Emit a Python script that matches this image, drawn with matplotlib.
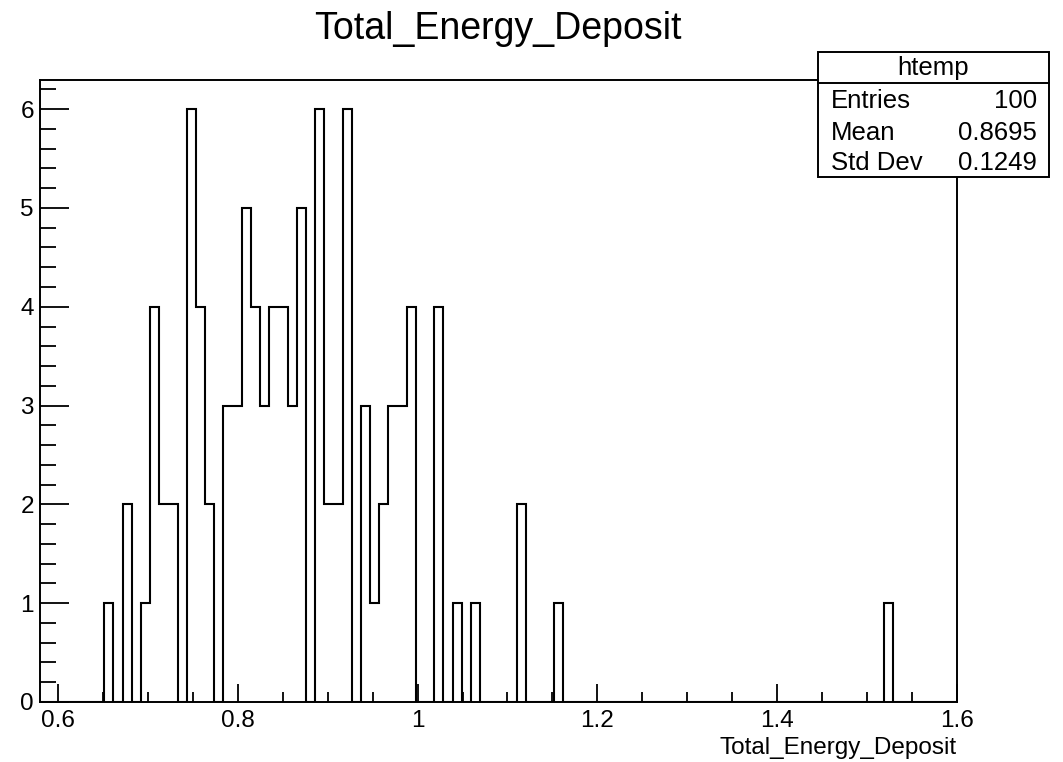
import numpy as np
import matplotlib
matplotlib.use("Agg")
import matplotlib.pyplot as plt
from matplotlib.patches import Rectangle
from matplotlib.lines import Line2D
from matplotlib.ticker import MultipleLocator, FixedLocator

# ---- data ----
title = "Total_Energy_Deposit"
x_label = "Total_Energy_Deposit"
hist_name = "htemp"
x_min, x_max, n_bins = 0.58, 1.60, 100
filled_bins = [7, 9, 11, 12, 13, 14, 16, 17, 18, 20, 21, 22, 23, 24, 25, 26, 27, 28, 30,
               31, 32, 33, 35, 36, 37, 38, 39, 40, 43, 45, 47, 52, 56, 92]
bin_counts = [1, 2, 1, 4, 2, 2, 6, 4, 2, 3, 3, 5, 4, 3, 4, 4, 3, 5, 6,
              2, 2, 6, 3, 1, 2, 3, 3, 4, 4, 1, 1, 2, 1, 1]
stat_labels = ["Entries", "Mean", "Std Dev"]
stat_values = ["100", "0.8695", "0.1249"]
x_ticks = [0.6, 0.8, 1.0, 1.2, 1.4, 1.6]
x_tick_labels = ["0.6", "0.8", "1", "1.2", "1.4", "1.6"]
y_ticks = [0, 1, 2, 3, 4, 5, 6]
y_tick_labels = ["0", "1", "2", "3", "4", "5", "6"]
y_top = 6.3

plt.rcParams['font.family'] = ['Liberation Sans', 'DejaVu Sans']

W, H = 1063, 762
fig = plt.figure(figsize=(W / 100, H / 100), dpi=100)
fig.patch.set_facecolor("white")

def fx(px):
    return px / W

def fy(py):
    return 1 - py / H

left, right, top, bottom = 40, 957, 79.5, 702
ax = fig.add_axes([fx(left), fy(bottom), fx(right - left), (bottom - top) / H])

counts = np.zeros(n_bins)
counts[filled_bins] = bin_counts
edges = np.linspace(x_min, x_max, n_bins + 1)
ax.stairs(counts, edges, baseline=0, fill=False, color="black", linewidth=1.5)

ax.set_xlim(x_min, x_max)
ax.set_ylim(0, y_top)

ax.xaxis.set_major_locator(FixedLocator(x_ticks))
ax.set_xticklabels(x_tick_labels)
ax.xaxis.set_minor_locator(MultipleLocator(0.05))
ax.yaxis.set_major_locator(FixedLocator(y_ticks))
ax.set_yticklabels(y_tick_labels)
ax.yaxis.set_minor_locator(MultipleLocator(0.2))

ax.tick_params(axis="x", which="major", direction="in", length=13, width=1.3,
               labelsize=17.5, pad=6)
ax.tick_params(axis="x", which="minor", direction="in", length=7.2, width=1.3)
ax.tick_params(axis="y", which="major", direction="in", length=21, width=1.3,
               labelsize=17.5, pad=4.5)
ax.tick_params(axis="y", which="minor", direction="in", length=11.5, width=1.3)
for s in ax.spines.values():
    s.set_linewidth(1.4)

# title
fig.text(fx(498), fy(39), title, ha="center", va="baseline", fontsize=27)
# x-axis title
fig.text(fx(957), fy(754), x_label, ha="right", va="baseline", fontsize=17.5)

# stats box
bx0, bx1, by0, by1, by_head = 818, 1049, 52, 177, 83
fig.patches.append(Rectangle((fx(bx0), fy(by1)), fx(bx1 - bx0), (by1 - by0) / H,
                             transform=fig.transFigure, facecolor="white",
                             edgecolor="black", linewidth=1.4, zorder=5))
fig.lines.append(Line2D([fx(bx0), fx(bx1)], [fy(by_head), fy(by_head)],
                        transform=fig.transFigure, color="black", linewidth=1.4, zorder=6))
fig.text(fx((bx0 + bx1) / 2), fy(75), hist_name, ha="center", va="baseline",
         fontsize=18.5, zorder=7)
row_baselines = [108, 140, 170]
for lab, val, yb in zip(stat_labels, stat_values, row_baselines):
    fig.text(fx(831), fy(yb), lab, ha="left", va="baseline", fontsize=18.5, zorder=7)
    fig.text(fx(1037), fy(yb), val, ha="right", va="baseline", fontsize=18.5, zorder=7)

fig.savefig("out.png", dpi=100)
